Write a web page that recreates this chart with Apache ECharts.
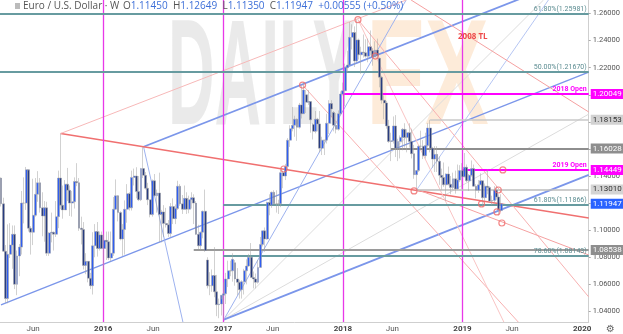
<!DOCTYPE html>
<html><head><meta charset="utf-8">
<script src="https://cdn.jsdelivr.net/npm/echarts@6/dist/echarts.min.js"></script>
<style>html,body{margin:0;padding:0;background:#fff}#c{width:623px;height:334px}</style>
</head><body><div id="c"></div>
<script>
const weeks = ['2015-02-23','2015-03-02','2015-03-09','2015-03-16','2015-03-23','2015-03-30','2015-04-06','2015-04-13','2015-04-20','2015-04-27','2015-05-04','2015-05-11','2015-05-18','2015-05-25','2015-06-01','2015-06-08','2015-06-15','2015-06-22','2015-06-29','2015-07-06','2015-07-13','2015-07-20','2015-07-27','2015-08-03','2015-08-10','2015-08-17','2015-08-24','2015-08-31','2015-09-07','2015-09-14','2015-09-21','2015-09-28','2015-10-05','2015-10-12','2015-10-19','2015-10-26','2015-11-02','2015-11-09','2015-11-16','2015-11-23','2015-11-30','2015-12-07','2015-12-14','2015-12-21','2015-12-28',
'2016-01-04','2016-01-11','2016-01-18','2016-01-25','2016-02-01','2016-02-08','2016-02-15','2016-02-22','2016-02-29','2016-03-07','2016-03-14','2016-03-21','2016-03-28','2016-04-04','2016-04-11','2016-04-18','2016-04-25','2016-05-02','2016-05-09','2016-05-16','2016-05-23','2016-05-30','2016-06-06','2016-06-13','2016-06-20','2016-06-27','2016-07-04','2016-07-11','2016-07-18','2016-07-25','2016-08-01','2016-08-08','2016-08-15','2016-08-22','2016-08-29','2016-09-05','2016-09-12','2016-09-19','2016-09-26','2016-10-03','2016-10-10','2016-10-17','2016-10-24','2016-10-31','2016-11-07','2016-11-14','2016-11-21','2016-11-28','2016-12-05','2016-12-12','2016-12-19','2016-12-26',
'2017-01-02','2017-01-09','2017-01-16','2017-01-23','2017-01-30','2017-02-06','2017-02-13','2017-02-20','2017-02-27','2017-03-06','2017-03-13','2017-03-20','2017-03-27','2017-04-03','2017-04-10','2017-04-17','2017-04-24','2017-05-01','2017-05-08','2017-05-15','2017-05-22','2017-05-29','2017-06-05','2017-06-12','2017-06-19','2017-06-26','2017-07-03','2017-07-10','2017-07-17','2017-07-24','2017-07-31','2017-08-07','2017-08-14','2017-08-21','2017-08-28','2017-09-04','2017-09-11','2017-09-18','2017-09-25','2017-10-02','2017-10-09','2017-10-16','2017-10-23','2017-10-30','2017-11-06','2017-11-13','2017-11-20','2017-11-27','2017-12-04','2017-12-11','2017-12-18','2017-12-25',
'2018-01-01','2018-01-08','2018-01-15','2018-01-22','2018-01-29','2018-02-05','2018-02-12','2018-02-19','2018-02-26','2018-03-05','2018-03-12','2018-03-19','2018-03-26','2018-04-02','2018-04-09','2018-04-16','2018-04-23','2018-04-30','2018-05-07','2018-05-14','2018-05-21','2018-05-28','2018-06-04','2018-06-11','2018-06-18','2018-06-25','2018-07-02','2018-07-09','2018-07-16','2018-07-23','2018-07-30','2018-08-06','2018-08-13','2018-08-20','2018-08-27','2018-09-03','2018-09-10','2018-09-17','2018-09-24','2018-10-01','2018-10-08','2018-10-15','2018-10-22','2018-10-29','2018-11-05','2018-11-12','2018-11-19','2018-11-26','2018-12-03','2018-12-10','2018-12-17','2018-12-24','2018-12-31',
'2019-01-07','2019-01-14','2019-01-21','2019-01-28','2019-02-04','2019-02-11','2019-02-18','2019-02-25','2019-03-04','2019-03-11','2019-03-18','2019-03-25','2019-04-01','2019-04-08','2019-04-15','2019-04-22','2019-04-29'];
const opens = [1.1385,1.1195,1.0845,1.0495,1.0822,1.0890,1.0970,1.0600,1.0810,1.0875,1.1200,1.1200,1.1447,1.1015,1.0985,1.1110,1.1265,1.1350,1.1165,1.1105,1.1165,1.0830,1.0980,1.0985,1.0970,1.1100,1.1385,1.1185,1.1150,1.1340,1.1295,1.1200,1.1210,1.1360,1.1350,1.1015,1.1005,1.0740,1.0770,1.0645,1.0590,1.0885,1.0990,1.0865,1.0965,
1.0865,1.0925,1.0915,1.0795,1.0830,1.1155,1.1255,1.1130,1.0935,1.1005,1.1155,1.1270,1.1165,1.1390,1.1400,1.1285,1.1225,1.1455,1.1405,1.1310,1.1225,1.1115,1.1365,1.1255,1.1275,1.1115,1.1135,1.1050,1.1040,1.0975,1.1175,1.1085,1.1160,1.1325,1.1195,1.1155,1.1235,1.1155,1.1225,1.1240,1.1200,1.0970,1.0885,1.0985,1.1140,1.0780,1.0590,1.0590,1.0665,1.0545,1.0450,1.0455,
1.0520,1.0530,1.0640,1.0700,1.0700,1.0760,1.0640,1.0615,1.0560,1.0620,1.0700,1.0735,1.0800,1.0650,1.0640,1.0615,1.0725,1.0895,1.0995,1.0935,1.1205,1.1185,1.1280,1.1195,1.1195,1.1195,1.1425,1.1400,1.1470,1.1665,1.1750,1.1775,1.1820,1.1760,1.1925,1.1860,1.2000,1.1945,1.1950,1.1780,1.1730,1.1820,1.1785,1.1605,1.1665,1.1665,1.1790,1.1935,1.1870,1.1775,1.1745,1.1860,
1.2005,1.2030,1.2200,1.2220,1.2425,1.2460,1.2250,1.2405,1.2295,1.2315,1.2310,1.2285,1.2355,1.2325,1.2280,1.2330,1.2270,1.2130,1.1960,1.1940,1.1770,1.1655,1.1660,1.1770,1.1605,1.1655,1.1685,1.1745,1.1685,1.1720,1.1655,1.1565,1.1410,1.1440,1.1620,1.1620,1.1550,1.1625,1.1755,1.1605,1.1525,1.1560,1.1510,1.1405,1.1390,1.1335,1.1415,1.1340,1.1315,1.1380,1.1305,1.1370,1.1440,
1.1395,1.1465,1.1365,1.1405,1.1455,1.1325,1.1295,1.1335,1.1365,1.1240,1.1325,1.1315,1.1215,1.1220,1.1295,1.1245,1.11450];
const highs = [1.1390,1.1240,1.0890,1.1043,1.1052,1.1035,1.1035,1.0850,1.0898,1.1290,1.1390,1.1467,1.1440,1.1030,1.1380,1.1385,1.1436,1.1385,1.1280,1.1215,1.1210,1.0985,1.1130,1.0990,1.1215,1.1440,1.1714,1.1330,1.1370,1.1460,1.1330,1.1290,1.1390,1.1495,1.1385,1.1100,1.1060,1.0830,1.0760,1.0685,1.0985,1.1045,1.1060,1.0990,1.0990,
1.0970,1.0990,1.0990,1.0990,1.1245,1.1375,1.1260,1.1140,1.1045,1.1220,1.1340,1.1280,1.1440,1.1455,1.1465,1.1400,1.1460,1.1615,1.1430,1.1350,1.1225,1.1375,1.1415,1.1300,1.1425,1.1150,1.1185,1.1165,1.1075,1.1200,1.1235,1.1190,1.1365,1.1340,1.1260,1.1330,1.1280,1.1255,1.1280,1.1265,1.1215,1.1040,1.0990,1.1145,1.1300,1.0800,1.0690,1.0710,1.0875,1.0670,1.0495,1.0490,
1.0615,1.0685,1.0775,1.0775,1.0830,1.0780,1.0720,1.0635,1.0630,1.0715,1.0785,1.0825,1.0905,1.0695,1.0680,1.0780,1.0950,1.0995,1.1020,1.1210,1.1265,1.1285,1.1295,1.1295,1.1225,1.1445,1.1440,1.1490,1.1680,1.1775,1.1910,1.1845,1.1825,1.1940,1.2070,1.2090,1.2035,1.2035,1.1950,1.1790,1.1880,1.1830,1.1880,1.1690,1.1665,1.1860,1.1960,1.1960,1.1880,1.1865,1.1885,1.2025,
1.2090,1.2230,1.2325,1.2537,1.2520,1.2505,1.2555,1.2415,1.2355,1.2445,1.2410,1.2415,1.2475,1.2345,1.2395,1.2415,1.2275,1.2140,1.1995,1.1955,1.1815,1.1720,1.1840,1.1850,1.1675,1.1700,1.1755,1.1790,1.1745,1.1790,1.1750,1.1630,1.1445,1.1625,1.1735,1.1665,1.1720,1.1790,1.1815,1.1615,1.1620,1.1620,1.1545,1.1455,1.1500,1.1420,1.1470,1.1400,1.1425,1.1440,1.1485,1.1480,1.1495,
1.1570,1.1485,1.1415,1.1515,1.1485,1.1340,1.1370,1.1420,1.1365,1.1345,1.1450,1.1325,1.1255,1.1325,1.1325,1.1265,1.12649];
const lows = [1.1175,1.0840,1.0462,1.0460,1.0795,1.0715,1.0565,1.0520,1.0660,1.0820,1.1050,1.1150,1.0990,1.0820,1.0890,1.1100,1.1210,1.1130,1.0955,1.0915,1.0810,1.0810,1.0910,1.0850,1.0950,1.1015,1.1155,1.1085,1.1155,1.1215,1.1105,1.1100,1.1160,1.1325,1.0995,1.0895,1.0710,1.0675,1.0615,1.0565,1.0525,1.0800,1.0805,1.0850,1.0860,
1.0710,1.0780,1.0780,1.0770,1.0810,1.1150,1.1065,1.0925,1.0810,1.0820,1.1055,1.1145,1.1145,1.1330,1.1235,1.1215,1.1215,1.1385,1.1300,1.1185,1.1095,1.1100,1.1250,1.1130,1.0910,1.0910,1.0950,1.1020,1.0950,1.0950,1.1045,1.1045,1.1150,1.1180,1.1120,1.1150,1.1120,1.1125,1.1160,1.1045,1.0965,1.0860,1.0855,1.0940,1.0840,1.0570,1.0520,1.0545,1.0505,1.0365,1.0350,1.0370,
1.0340,1.0455,1.0580,1.0660,1.0620,1.0590,1.0520,1.0495,1.0495,1.0525,1.0600,1.0730,1.0650,1.0570,1.0570,1.0605,1.0725,1.0880,1.0840,1.0930,1.1110,1.1165,1.1195,1.1130,1.1120,1.1170,1.1310,1.1370,1.1445,1.1615,1.1730,1.1690,1.1660,1.1750,1.1825,1.1860,1.1865,1.1925,1.1720,1.1670,1.1715,1.1730,1.1575,1.1555,1.1555,1.1640,1.1710,1.1835,1.1730,1.1715,1.1735,1.1850,
1.1995,1.1915,1.2165,1.2215,1.2335,1.2205,1.2235,1.2260,1.2155,1.2275,1.2275,1.2240,1.2290,1.2215,1.2280,1.2265,1.2055,1.1935,1.1820,1.1750,1.1645,1.1510,1.1640,1.1540,1.1510,1.1530,1.1590,1.1610,1.1575,1.1610,1.1530,1.1380,1.1300,1.1430,1.1590,1.1525,1.1530,1.1610,1.1575,1.1460,1.1430,1.1430,1.1335,1.1300,1.1320,1.1215,1.1330,1.1265,1.1300,1.1270,1.1300,1.1355,1.1305,
1.1390,1.1355,1.1290,1.1395,1.1320,1.1235,1.1275,1.1335,1.1175,1.1215,1.1265,1.1210,1.1185,1.1200,1.1225,1.1110,1.11350];
const closes = [1.1195,1.0845,1.0495,1.0822,1.0890,1.0970,1.0600,1.0810,1.0875,1.1200,1.1200,1.1447,1.1015,1.0985,1.1110,1.1265,1.1350,1.1165,1.1105,1.1165,1.0830,1.0980,1.0985,1.0970,1.1100,1.1385,1.1185,1.1150,1.1340,1.1295,1.1200,1.1210,1.1360,1.1350,1.1015,1.1005,1.0740,1.0770,1.0645,1.0590,1.0885,1.0990,1.0865,1.0965,1.0865,
1.0925,1.0915,1.0795,1.0830,1.1155,1.1255,1.1130,1.0935,1.1005,1.1155,1.1270,1.1165,1.1390,1.1400,1.1285,1.1225,1.1455,1.1405,1.1310,1.1225,1.1115,1.1365,1.1255,1.1275,1.1115,1.1135,1.1050,1.1040,1.0975,1.1175,1.1085,1.1160,1.1325,1.1195,1.1155,1.1235,1.1155,1.1225,1.1240,1.1200,1.0970,1.0885,1.0985,1.1140,1.0850,1.0590,1.0590,1.0665,1.0545,1.0450,1.0455,1.0520,
1.0530,1.0640,1.0700,1.0700,1.0785,1.0640,1.0615,1.0560,1.0620,1.0700,1.0735,1.0800,1.0650,1.0640,1.0615,1.0725,1.0895,1.0995,1.0935,1.1205,1.1185,1.1280,1.1195,1.1195,1.1195,1.1425,1.1400,1.1470,1.1665,1.1750,1.1775,1.1820,1.1760,1.1925,1.1860,1.2035,1.1945,1.1950,1.1815,1.1730,1.1820,1.1785,1.1605,1.1665,1.1665,1.1790,1.1935,1.1895,1.1775,1.1745,1.1860,1.2005,
1.2030,1.2200,1.2220,1.2425,1.2460,1.2250,1.2405,1.2295,1.2315,1.2310,1.2285,1.2355,1.2325,1.2280,1.2330,1.2290,1.2130,1.1960,1.1940,1.1770,1.1655,1.1660,1.1770,1.1605,1.1655,1.1685,1.1745,1.1685,1.1720,1.1655,1.1565,1.1410,1.1440,1.1620,1.1620,1.1550,1.1625,1.1755,1.1605,1.1525,1.1560,1.1510,1.1405,1.1390,1.1335,1.1415,1.1340,1.1315,1.1380,1.1305,1.1370,1.1440,1.1395,
1.1465,1.1365,1.1405,1.1455,1.1325,1.1295,1.1335,1.1365,1.1240,1.1325,1.1315,1.1215,1.1220,1.1295,1.1245,1.1150,1.11947];

const yearStarts = ['2016-01-01','2017-01-01','2018-01-01','2019-01-01'];
const xLabelDates = ['2015-06-01','2016-01-01','2016-06-01','2017-01-01','2017-06-01','2018-01-01','2018-06-01','2019-01-01','2019-06-01','2020-01-01'];
const yTicks = [1.04,1.06,1.08,1.10,1.12,1.14,1.16,1.18,1.20,1.22,1.24,1.26];
const xMinDate = '2015-02-20', xMaxDate = '2020-01-21';
const yMin = 1.0322, yMax = 1.27;

// Fibonacci levels
const fibNames = ['61.80%(1.25981)','50.00%(1.21670)','61.80%(1.11866)','78.60%(1.08143)'];
const fibValues = [1.25981,1.21670,1.11866,1.08143];
const fibStarts = [xMinDate, xMinDate, '2017-01-01', '2017-01-01'];
// horizontal levels with price tags
const levelValues = [1.20049,1.18153,1.16028,1.14449,1.13010,1.11947,1.08538];
const levelStarts = ['2018-01-01','2018-09-24','2018-05-28','2019-01-01','2018-08-13','2019-04-29','2016-10-03'];
const openNames = ['2018 Open','2019 Open'];
const openValues = [1.20049,1.14449];
const openStarts = ['2018-01-01','2019-01-01'];

// trend lines: [date, price] endpoints
const chanUpper = [['2016-05-03',1.1616],['2019-10-07',1.2807]];
const chanMiddle = [['2015-02-23',1.0448],['2020-01-21',1.2168]];
const chanLower = [['2017-01-03',1.0340],['2020-01-21',1.1408]];
const blueSteepDown = [['2016-05-03',1.1616],['2016-08-31',1.0322]];
const blueFan1 = [['2017-01-03',1.0340],['2018-07-13',1.2700]];
const blueFan2 = [['2018-08-15',1.1301],['2019-09-20',1.2700]];
const grayFan1 = [['2017-01-03',1.0340],['2020-01-21',1.1857]];
const grayFan2 = [['2017-01-03',1.0340],['2019-09-05',1.2700]];
const redMain = [['2015-08-24',1.1714],['2020-01-21',1.1090]];
const redFaint = [['2015-08-24',1.1714],['2018-07-13',1.2700]];
const tl2008 = [['2018-07-28',1.2700],['2020-01-21',1.1873]];
const pinkA = [['2018-02-16',1.2555],['2020-01-21',1.0507]];
const pinkB = [['2017-08-31',1.2072],['2019-06-20',1.0322]];
const pinkC = [['2018-08-15',1.1301],['2020-01-21',1.0817]];
const pinkD = [['2018-02-16',1.2555],['2019-05-07',1.0322]];
const circlePts = [['2018-02-16',1.2555],['2017-08-31',1.2072],['2018-04-10',1.2286],['2017-07-05',1.1452],['2018-08-06',1.1290],['2019-02-28',1.1194],['2019-04-20',1.1297],['2019-05-04',1.1445],['2019-04-16',1.1135],['2019-05-01',1.1053]];

const T = s => Date.parse(s + 'T00:00:00Z');
const xMin = T(xMinDate), xMax = T(xMaxDate);
const pts = arr => arr.map(p => [T(p[0]), p[1]]);
const candleData = weeks.map((w,i)=>[T(w), opens[i], closes[i], lows[i], highs[i]]);

const chart = echarts.init(document.getElementById('c'));
const tagColors = [['#ff00ff','#fff'],['#d2d2d2','#333'],['#8e8e8e','#fff'],['#ff00ff','#fff'],['#d4d4d4','#333'],['#2962ff','#fff'],['#8e8e8e','#fff']];
const levelLine = ['#ff00ff','#c8c8c8','#8e8e8e','#ff00ff','#bcbcbc','rgba(0,0,0,0)','#9a9a9a'];
const levelWidth = [2,1.5,2,2,1.5,1,2];

function seg(data, color, width, z){
  return {type:'line', data:pts(data), showSymbol:false, silent:true, clip:true, z:z||3, lineStyle:{color, width}, animation:false};
}

const series = [
  {type:'line', data:[], z:2, markLine:{silent:true, symbol:'none', animation:false, label:{show:false},
    lineStyle:{color:'#e838e8', width:1.3, type:'solid'}, data: yearStarts.map(d=>({xAxis:T(d)}))}},
  {type:'line', data:[], z:2, markLine:{silent:true, symbol:'none', animation:false,
    data: fibValues.map((v,i)=>[{coord:[T(fibStarts[i]), v], lineStyle:{color:'#679ba0', width:2, type:'solid'},
      label:{show:true, position:'insideEndTop', formatter:fibNames[i], color:'#5b8c91', fontSize:7, fontFamily:'Roboto', distance:[2,1]}},{coord:[xMax, v]}])}},
  {type:'line', data:[], z:4, markLine:{silent:true, symbol:'none', animation:false,
    data: levelValues.map((v,i)=>[{coord:[T(levelStarts[i]), v], lineStyle:{color:levelLine[i], width:levelWidth[i], type:'solid'},
      label:{show:true, position:'end', distance:2, formatter:v.toFixed(5), backgroundColor:tagColors[i][0], color:tagColors[i][1],
        fontSize:8, fontFamily:'Roboto', padding:[1,2,1,2]}},{coord:[xMax, v]}])}},
  {type:'line', data:[], z:4, markLine:{silent:true, symbol:'none', animation:false,
    data: openValues.map((v,i)=>[{coord:[T(openStarts[i]), v], lineStyle:{color:'#ff00ff', width:0},
      label:{show:true, position:'insideEndTop', formatter:openNames[i], color:'#ff00ff', fontSize:7, fontWeight:'bold', fontFamily:'Roboto', distance:[2,1]}},{coord:[xMax, v]}])}},
  seg(grayFan1,'#dcdcdc',1),
  seg(grayFan2,'#dcdcdc',1),
  seg(chanUpper,'#7b96ea',1.8),
  seg(chanMiddle,'#7b96ea',1.3),
  seg(chanLower,'#7b96ea',1.8),
  seg(blueSteepDown,'#9db2ef',1),
  seg(blueFan1,'#9db2ef',1),
  seg(blueFan2,'#b6c6f3',1),
  seg(redMain,'#f07070',1.5),
  seg(redFaint,'#f7b8b8',1),
  seg(tl2008,'#f5a0a0',1),
  seg(pinkA,'#f7b0b0',1),
  seg(pinkB,'#f7b0b0',1),
  seg(pinkC,'#f5a0a0',1),
  seg(pinkD,'#f9c4c4',1),
  {type:'candlestick', data:candleData, z:5, barWidth:2.4, animation:false,
    itemStyle:{color:'#2f5ef2', color0:'#283c80', borderColor:'#a3a3a3', borderColor0:'#a3a3a3', borderWidth:0.5}},
  {type:'scatter', data:pts(circlePts), symbol:'circle', symbolSize:6, z:6, silent:true, animation:false,
    itemStyle:{color:'rgba(255,255,255,0)', borderColor:'#f06a6a', borderWidth:1.2}}
];

chart.setOption({
  animation:false,
  grid:{left:0, right:28, top:0, bottom:12},
  xAxis:{type:'value', min:xMin, max:xMax,
    axisLine:{show:true, lineStyle:{color:'#cfcfcf'}}, axisTick:{show:false}, splitLine:{show:false},
    axisLabel:{customValues: xLabelDates.map(T), color:'#555', fontSize:8, fontFamily:'Roboto', margin:3,
      formatter:v=>{const d=new Date(v); return d.getUTCMonth()===0 ? '{y|'+d.getUTCFullYear()+'}' : 'Jun';},
      rich:{y:{fontWeight:'bold', color:'#444', fontSize:8}}}},
  yAxis:{type:'value', position:'right', min:yMin, max:yMax, scale:true,
    axisLine:{show:true, lineStyle:{color:'#cfcfcf'}}, splitLine:{show:false},
    axisTick:{show:true, customValues:yTicks, length:2, lineStyle:{color:'#aaa'}},
    axisLabel:{customValues:yTicks, formatter:v=>v.toFixed(5), color:'#555', fontSize:7.5, fontFamily:'Roboto', margin:4}},
  graphic:[
    {type:'text', left:168, top:8, z:0, silent:true, scaleX:0.43, style:{text:'DAILY', font:'bold 150px "Liberation Sans"', fill:'rgba(200,200,200,0.38)'}},
    {type:'text', left:366, top:8, z:0, silent:true, scaleX:0.64, style:{text:'FX', font:'bold 150px "Liberation Sans"', fill:'rgba(250,190,130,0.3)'}},
    {type:'rect', left:15, top:3, z:100, shape:{width:5, height:6}, style:{fill:'#bbb'}},
    {type:'text', left:23, top:1, z:100, style:{text:'Euro / U.S. Dollar · W', font:'10px "Open Sans"', fill:'#555'}},
    {type:'text', left:123, top:1, z:100, style:{
      text:'{l|O}{v|1.11450}  {l|H}{v|1.12649}  {l|L}{v|1.11350}  {l|C}{v|1.11947}  {v|+0.00555 (+0.50%)}',
      font:'10px "Open Sans"', rich:{l:{fill:'#555', font:'10px "Open Sans"'}, v:{fill:'#3d6fd8', font:'10px "Open Sans"'}}}},
    {type:'text', left:458, top:33, z:100, style:{text:'2008 TL', font:'bold 8px "Open Sans"', fill:'#ee4a4a'}},
    {type:'text', left:606, top:324, z:100, style:{text:'⚙', font:'10px "DejaVu Sans"', fill:'#666'}}
  ],
  series
});
</script></body></html>
